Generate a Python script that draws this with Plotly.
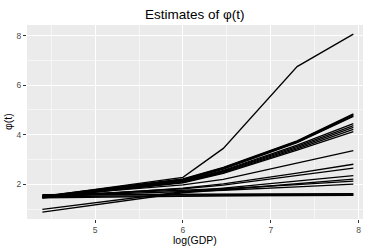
import plotly.graph_objects as go

# log(GDP) knot positions
log_gdp = [4.4, 6.0, 6.46, 7.3, 7.94]

# Estimated phi(t) curves
phi_1 = [1.50, 2.28, 3.45, 6.75, 8.06]
phi_2 = [1.52, 2.22, 2.68, 3.75, 4.84]
phi_3 = [1.50, 2.20, 2.66, 3.73, 4.81]
phi_4 = [1.48, 2.18, 2.63, 3.70, 4.77]
phi_5 = [1.47, 2.16, 2.61, 3.68, 4.74]
phi_6 = [1.50, 2.14, 2.56, 3.58, 4.45]
phi_7 = [1.49, 2.12, 2.53, 3.53, 4.37]
phi_8 = [1.47, 2.10, 2.50, 3.48, 4.30]
phi_9 = [1.46, 2.08, 2.47, 3.43, 4.22]
phi_10 = [1.45, 2.06, 2.44, 3.38, 4.13]
phi_11 = [1.52, 1.98, 2.20, 2.85, 3.36]
phi_12 = [1.45, 1.85, 2.02, 2.45, 2.81]
phi_13 = [1.50, 1.82, 1.97, 2.35, 2.65]
phi_14 = [0.99, 1.70, 1.85, 2.12, 2.35]
phi_15 = [0.88, 1.66, 1.78, 2.01, 2.21]
phi_16 = [1.55, 1.75, 1.82, 1.99, 2.13]
phi_17 = [1.52, 1.70, 1.76, 1.90, 2.01]
phi_18 = [1.55, 1.57, 1.58, 1.59, 1.60]
phi_19 = [1.50, 1.54, 1.55, 1.56, 1.57]
phi_20 = [1.45, 1.52, 1.53, 1.54, 1.55]
phi_21 = [1.58, 1.60, 1.61, 1.62, 1.62]

series = [phi_1, phi_2, phi_3, phi_4, phi_5, phi_6, phi_7, phi_8, phi_9, phi_10,
          phi_11, phi_12, phi_13, phi_14, phi_15, phi_16, phi_17, phi_18, phi_19,
          phi_20, phi_21]

x_ticks = [5, 6, 7, 8]
y_ticks = [2, 4, 6, 8]

fig = go.Figure()
for s in series:
    fig.add_trace(go.Scatter(x=log_gdp, y=s, mode="lines",
                             line=dict(color="black", width=1.3),
                             showlegend=False, hoverinfo="skip"))

font_family = "Liberation Sans, Arial, sans-serif"

axis_common = dict(
    showline=False, zeroline=False,
    gridcolor="white", gridwidth=1.1,
    ticks="outside", ticklen=3, tickwidth=1, tickcolor="#333333",
    tickfont=dict(family=font_family, size=8.5, color="#4D4D4D"),
)

fig.update_layout(
    width=374, height=249,
    margin=dict(l=27, r=11, t=25, b=30),
    paper_bgcolor="white", plot_bgcolor="#EBEBEB",
    font=dict(family=font_family, color="black"),
    hovermode=False,
    title=dict(text="Estimates of \u03c6(t)", x=0.521, xanchor="center",
               y=1 - 14 / 249, yanchor="middle", yref="container",
               font=dict(family=font_family, size=13.5, color="black")),
    xaxis=dict(range=[4.225, 8.05], tickvals=x_ticks,
               ticktext=[str(v) for v in x_ticks],
               minor=dict(tickvals=[4.5, 5.5, 6.5, 7.5], gridcolor="white",
                          gridwidth=0.55, ticks=""),
               **axis_common),
    yaxis=dict(range=[0.6, 8.43], tickvals=y_ticks,
               ticktext=[str(v) for v in y_ticks],
               minor=dict(tickvals=[1, 3, 5, 7], gridcolor="white",
                          gridwidth=0.55, ticks=""),
               **axis_common),
    annotations=[
        dict(text="log(GDP)", xref="paper", yref="paper", x=0.5, y=-(240 - 219) / 194,
             xanchor="center", yanchor="middle", showarrow=False,
             font=dict(family=font_family, size=10.5, color="black")),
        dict(text="\u03c6(t)", xref="paper", yref="paper", x=(8 - 27) / 336, y=0.5,
             xanchor="center", yanchor="middle", textangle=-90, showarrow=False,
             font=dict(family=font_family, size=10.5, color="black")),
    ],
)

fig.write_html("out.html",
               config={"displayModeBar": False, "staticPlot": True},
               post_script="document.body.style.margin='0';document.body.style.padding='0';document.body.style.overflow='hidden';")
